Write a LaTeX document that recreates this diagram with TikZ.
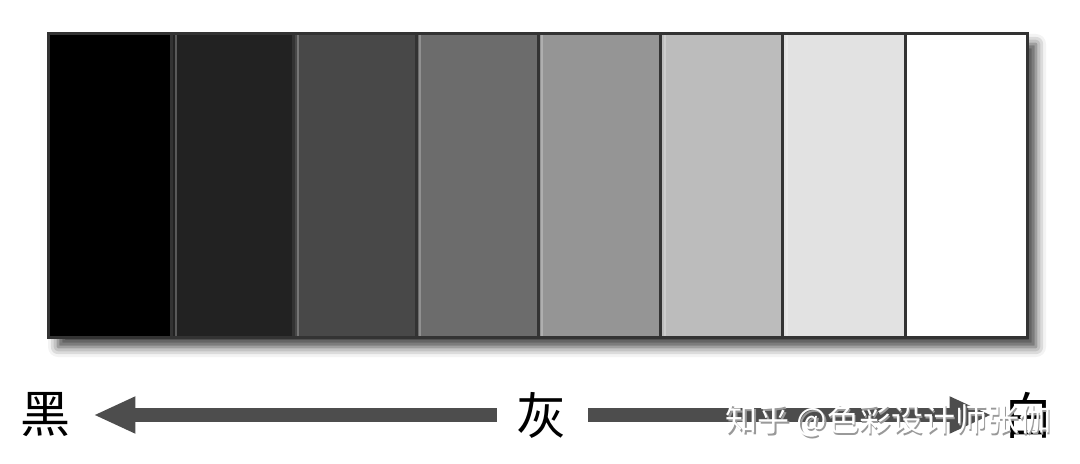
\documentclass[tikz,border=0pt]{standalone}
\usepackage{fontspec}
\newfontfamily\cjk{Noto Sans CJK SC}
\usetikzlibrary{arrows.meta,shadows.blur}
\definecolor{g1}{HTML}{000000}
\definecolor{g2}{HTML}{222222}
\definecolor{g3}{HTML}{484848}
\definecolor{g4}{HTML}{6C6C6C}
\definecolor{g5}{HTML}{959595}
\definecolor{g6}{HTML}{BCBCBC}
\definecolor{g7}{HTML}{E2E2E2}
\definecolor{g8}{HTML}{FFFFFF}
\definecolor{framec}{HTML}{333333}
\definecolor{arrowc}{HTML}{4D4D4D}
\tikzset{
  cell/.style={rectangle, inner sep=0pt, minimum width=61.125pt, minimum height=151.5pt},
  frame/.style={rectangle, inner sep=0pt, minimum width=489pt, minimum height=151.5pt, fill=white},
  divider/.style={draw=framec, line width=1.5pt},
  highlight/.style={line width=1pt, opacity=0.25, draw=white},
  outer/.style={draw=framec, line width=1.5pt},
  lbl/.style={inner sep=0pt, font=\cjk\fontsize{25pt}{25pt}\selectfont, text=black},
  bigarrow/.style={draw=arrowc, line width=7pt, -{Triangle[length=21pt, width=17pt]}},
  wm/.style={inner sep=0pt, font=\cjk\fontsize{16pt}{16pt}\selectfont},
}
\begin{document}
\begin{tikzpicture}[x=0.5pt,y=-0.5pt]
\useasboundingbox (0,0) rectangle (1080,464);
% shadowed frame
\node[frame, blur shadow={shadow xshift=4.5pt, shadow yshift=-5pt, shadow blur radius=5pt, shadow opacity=75}] (bar) at (538,185.5) {};
% cells
\foreach \i/\c in {1/g1,2/g2,3/g3,4/g4,5/g5,6/g6,7/g7,8/g8}{
  \node[cell, fill=\c] (c\i) at ({49+122.25*(\i-0.5)},185.5) {};
}
% dividers with a faint highlight on their right
\foreach \i in {1,...,7}{
  \draw[highlight] ([xshift=2pt]c\i.north east) -- ([xshift=2pt]c\i.south east);
  \draw[divider] (c\i.north east) -- (c\i.south east);
}
\draw[outer] (bar.north west) rectangle (bar.south east);
% labels
\node[lbl] (hei) at (45,415) {黑};
\node[lbl] (hui) at (541,415) {灰};
\node[lbl] (bai) at (1028,415) {白};
% arrows
\draw[bigarrow, shorten <=9.5pt, shorten >=11.5pt] (hui.west) -- (hei.east);
\draw[bigarrow, shorten <=11pt, shorten >=5.5pt] (hui.east) -- (bai.west);
% watermark
\node[wm, text=black!40] (wmshadow) at (890,423) {知乎 @色彩设计师张伽};
\node[wm, text=white] (wmark) at (888.5,421) {知乎 @色彩设计师张伽};
\end{tikzpicture}
\end{document}
